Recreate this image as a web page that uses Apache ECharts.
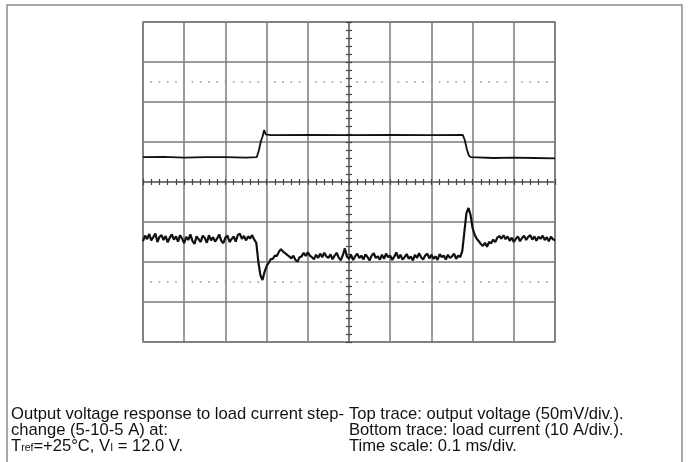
<!DOCTYPE html>
<html>
<head>
<meta charset="utf-8">
<script src="https://cdn.jsdelivr.net/npm/echarts@6/dist/echarts.min.js"></script>
<style>
html,body{margin:0;padding:0;background:#fff;}
#chart{width:690px;height:462px;}
</style>
</head>
<body>
<div id="chart"></div>
<script>
// Time axis in ms (0.1 ms/div, trigger at centre), vertical axis in divisions
const timeRange = [-0.5, 0.5];
const divRange = [-4, 4];

// Top trace (output voltage), [time ms] and [divisions]
const topTime = [-0.5, -0.45, -0.40, -0.35, -0.30, -0.25, -0.224, -0.219, -0.214, -0.210, -0.206, -0.202, -0.19, -0.10, 0, 0.10, 0.20, 0.276, 0.281, 0.286, 0.291, 0.296, 0.35, 0.40, 0.45, 0.5];
const topLevel = [0.62, 0.63, 0.61, 0.62, 0.62, 0.61, 0.62, 0.78, 1.02, 1.13, 1.30, 1.19, 1.17, 1.18, 1.17, 1.18, 1.17, 1.18, 1.05, 0.82, 0.66, 0.62, 0.60, 0.61, 0.60, 0.59];

// Bottom trace (load current), sampled every 0.005 ms starting at -0.5 ms
const bottomStart = -0.5;
const bottomStep = 0.005;
const bottomLevel = [
  -1.48,-1.34,-1.43,-1.30,-1.46,-1.38,-1.29,-1.50,-1.37,-1.33,
  -1.45,-1.35,-1.51,-1.39,-1.31,-1.44,-1.36,-1.49,-1.33,-1.42,
  -1.53,-1.37,-1.45,-1.31,-1.47,-1.55,-1.36,-1.43,-1.50,-1.34,
  -1.40,-1.52,-1.33,-1.46,-1.38,-1.49,-1.41,-1.31,-1.47,-1.53,
  -1.39,-1.34,-1.50,-1.43,-1.36,-1.49,-1.33,-1.29,-1.42,-1.35,
  -1.46,-1.36,-1.41,-1.33,-1.44,
  -1.52,-2.00,-2.33,-2.45,-2.25,-2.10,-2.02,-1.93,-1.92,-1.84,
  -1.85,-1.74,-1.68,-1.74,-1.78,-1.82,-1.86,-1.91,-1.84,-1.95,
  -1.99,-1.88,-1.86,-1.77,-1.85,-1.76,-1.84,-1.88,-1.93,-1.82,
  -1.90,-1.79,-1.88,-1.77,-1.86,
  -1.90,-1.81,-1.93,-1.84,-1.77,-1.89,-1.96,-1.83,-1.66,-1.87,
  -1.92,-1.82,-1.95,-1.86,-1.79,-1.90,-1.84,-1.94,-1.81,-1.88,
  -1.96,-1.84,-1.78,-1.90,-1.86,-1.94,-1.82,-1.92,-1.79,-1.88,
  -1.84,-1.95,-1.86,-1.76,-1.91,-1.82,-1.94,-1.88,-1.80,-1.92,
  -1.86,-1.96,-1.82,-1.90,-1.78,-1.88,-1.94,-1.84,-1.79,-1.91,
  -1.82,-1.92,-1.86,-1.95,-1.80,-1.88,-1.84,-1.94,-1.82,-1.90,
  -1.86,-1.79,-1.92,-1.84,-1.88,
  -1.72,-1.25,-0.78,-0.65,-0.82,-1.15,-1.32,-1.42,-1.48,-1.55,
  -1.60,-1.52,-1.62,-1.50,-1.53,-1.44,-1.50,-1.39,-1.35,-1.42,
  -1.33,-1.43,-1.36,-1.47,-1.39,-1.50,-1.42,-1.36,-1.48,-1.40,
  -1.34,-1.45,-1.37,-1.33,-1.44,-1.36,-1.47,-1.37,-1.42,-1.34,
  -1.45,-1.38,-1.48,-1.37,-1.43,-1.46
];

// 0% / 100% reference levels (dotted)
const markerLevels = [2.5, -2.5];

// Caption texts
const captionLeft = [
  'Output voltage response to load current step-',
  'change (5-10-5 A) at:'
];
const captionLeft3 = '{n|T}{s|ref}{n|=+25°C, V}{s|I}{n| = 12.0 V.}';
const captionRight = [
  'Top trace: output voltage (50mV/div.).',
  'Bottom trace: load current (10 A/div.).',
  'Time scale: 0.1 ms/div.'
];

const gridColor = '#7a7a7a';
const FONT = '"Liberation Sans", Arial, Helvetica, sans-serif';
const FS = 16.6;

const topData = topTime.map((t, i) => [t, topLevel[i]]);
const bottomData = bottomLevel.map((v, i) => [+(bottomStart + i * bottomStep).toFixed(4), v]);

const chart = echarts.init(document.getElementById('chart'), null, {renderer: 'canvas'});

function centreX(position) {
  return {
    type: 'value', min: timeRange[0], max: timeRange[1], interval: 0.1,
    position: position,
    axisLine: {show: true, onZero: true, onZeroAxisIndex: 0, lineStyle: {color: gridColor, width: 1.5}},
    axisTick: {show: true, length: 3, lineStyle: {color: '#444', width: 1.2}},
    minorTick: {show: true, splitNumber: 5, length: 3, lineStyle: {color: '#444', width: 1.2}},
    axisLabel: {show: false}, splitLine: {show: false}
  };
}
function centreY(position) {
  return {
    type: 'value', min: divRange[0], max: divRange[1], interval: 1,
    position: position,
    axisLine: {show: true, onZero: true, onZeroAxisIndex: 0, lineStyle: {color: gridColor, width: 1.5}},
    axisTick: {show: true, length: 3, lineStyle: {color: '#444', width: 1.2}},
    minorTick: {show: true, splitNumber: 5, length: 3, lineStyle: {color: '#444', width: 1.2}},
    axisLabel: {show: false}, splitLine: {show: false}
  };
}

const graphics = [
  {type: 'rect', shape: {x: 7, y: 5, width: 675, height: 480}, style: {fill: 'none', stroke: '#8a8a8a', lineWidth: 1.5}, silent: true}
];
captionLeft.forEach((s, i) => graphics.push({
  type: 'text', x: 11, y: 414 + i * 16,
  style: {text: s, font: FS + 'px ' + FONT, fill: '#111', verticalAlign: 'middle', align: 'left'}
}));
graphics.push({
  type: 'text', x: 11, y: 446,
  style: {
    text: captionLeft3, fill: '#111', verticalAlign: 'middle', align: 'left',
    rich: {
      n: {fontSize: FS, fontFamily: FONT, lineHeight: 16, fill: '#111'},
      s: {fontSize: 10.5, fontFamily: FONT, lineHeight: 6, verticalAlign: 'bottom', fill: '#111'}
    }
  }
});
captionRight.forEach((s, i) => graphics.push({
  type: 'text', x: 349, y: 414 + i * 16,
  style: {text: s, font: FS + 'px ' + FONT, fill: '#111', verticalAlign: 'middle', align: 'left'}
}));

chart.setOption({
  animation: false,
  backgroundColor: '#fff',
  grid: {left: 143, top: 22, width: 412, height: 320, show: true, borderColor: gridColor, borderWidth: 1.5, containLabel: false},
  xAxis: [
    {
      type: 'value', min: timeRange[0], max: timeRange[1], interval: 0.1, position: 'bottom',
      axisLine: {show: false, onZero: false}, axisTick: {show: false}, axisLabel: {show: false},
      splitLine: {show: true, lineStyle: {color: gridColor, width: 1.5}}
    },
    centreX('top'),
    centreX('bottom')
  ],
  yAxis: [
    {
      type: 'value', min: divRange[0], max: divRange[1], interval: 1, position: 'left',
      axisLine: {show: false, onZero: false}, axisTick: {show: false}, axisLabel: {show: false},
      splitLine: {show: true, lineStyle: {color: gridColor, width: 1.5}}
    },
    centreY('left'),
    centreY('right')
  ],
  series: [
    {
      type: 'line', xAxisIndex: 0, yAxisIndex: 0, data: topData, showSymbol: false, symbol: 'none',
      lineStyle: {color: '#111', width: 1.8}, silent: true, z: 5,
      markLine: {
        silent: true, symbol: 'none', label: {show: false},
        lineStyle: {color: '#999', width: 1.6, type: [1.6, 6.64], dashOffset: 0.8},
        data: markerLevels.map(v => ({yAxis: v}))
      }
    },
    {
      type: 'line', xAxisIndex: 0, yAxisIndex: 0, data: bottomData, showSymbol: false, symbol: 'none',
      lineStyle: {color: '#111', width: 2.2}, silent: true, z: 5
    }
  ],
  graphic: graphics
});
</script>
</body>
</html>
